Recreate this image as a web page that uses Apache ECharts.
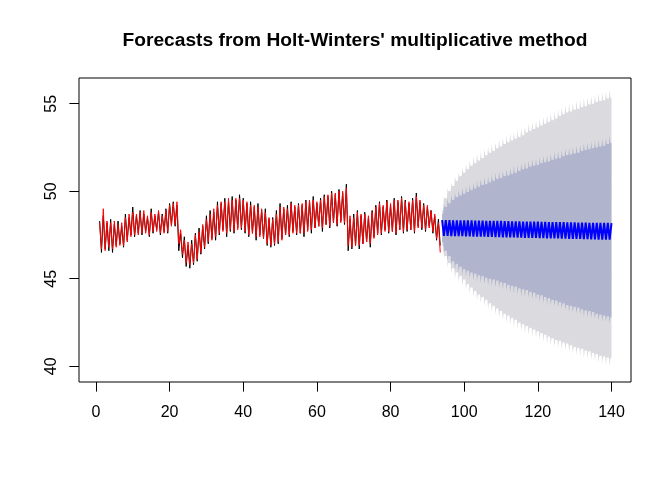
<!DOCTYPE html>
<html>
<head>
<meta charset="utf-8">
<script src="https://cdn.jsdelivr.net/npm/echarts@6/dist/echarts.min.js"></script>
<style>
  html, body { margin: 0; background: #fff; }
  #chart { width: 672px; height: 480px; }
</style>
</head>
<body>
<div id="chart"></div>
<script>
// observed series: one high and one low per season, t = 1..93
const obsHi = [
  48.3,48.6,48.2,48.4,48.1,48.3,48.0,48.7,48.5,49.1,
  48.6,48.9,48.7,48.5,49.0,48.6,48.8,48.7,49.0,49.3,
  49.4,49.2,47.6,47.4,46.9,47.2,47.6,47.9,48.0,48.6,
  48.9,48.8,49.4,49.3,49.6,49.4,49.7,49.5,49.8,49.6,
  49.3,49.4,49.1,49.3,48.9,49.0,48.4,48.5,48.9,49.3,
  49.0,49.2,49.4,49.1,49.3,49.2,49.5,49.4,49.7,49.3,
  49.6,49.8,49.7,50.0,49.8,50.1,49.9,50.4,48.4,48.7,
  48.9,48.6,48.8,48.5,48.9,49.2,49.4,49.1,49.5,49.2,
  49.6,49.4,49.7,49.5,49.3,49.6,49.9,49.4,49.3,49.1,
  48.9,48.6,48.4
];
const obsLo = [
  46.5,46.7,46.6,46.5,46.9,47.0,46.8,47.2,47.5,47.4,
  47.6,47.5,47.7,47.4,47.6,47.8,47.5,47.7,47.6,48.1,
  48.0,46.6,46.2,45.7,45.6,45.8,46.0,46.4,46.7,47.0,
  47.3,47.2,47.5,47.8,47.4,47.7,47.6,47.9,47.8,47.6,
  47.4,47.6,47.2,47.5,47.3,46.9,46.8,46.9,47.0,47.3,
  47.5,47.4,47.7,47.5,47.6,47.4,47.8,47.6,47.9,48.0,
  47.7,48.1,47.9,48.2,48.0,48.3,48.1,46.6,46.7,46.9,
  46.7,47.0,47.1,46.8,47.4,47.6,47.5,47.8,47.6,47.7,
  47.5,47.8,47.6,47.7,47.8,47.6,48.0,47.8,47.7,48.0,
  47.6,47.2,46.9
];
// fitted values (red)
const fitHi = [
  48.2,49.0,48.3,48.2,48.3,48.1,48.2,48.5,48.7,48.8,
  48.7,48.8,48.9,48.6,48.8,48.7,48.9,48.6,48.9,49.2,
  49.3,49.4,47.8,47.2,47.1,47.0,47.5,47.7,48.1,48.4,
  48.7,49.0,49.2,49.4,49.4,49.6,49.5,49.6,49.6,49.5,
  49.4,49.2,49.2,49.1,49.0,48.8,48.5,48.4,48.7,49.1,
  49.1,49.0,49.3,49.2,49.2,49.3,49.4,49.5,49.5,49.4,
  49.5,49.7,49.8,49.9,49.9,50.0,50.0,50.2,48.6,48.5,
  48.8,48.7,48.7,48.6,48.8,49.1,49.3,49.2,49.4,49.3,
  49.5,49.5,49.6,49.4,49.4,49.5,49.7,49.5,49.2,49.2,
  48.9,48.7,48.2
];
const fitLo = [
  46.7,46.6,46.8,46.7,46.8,46.9,46.9,47.1,47.4,47.5,
  47.5,47.6,47.6,47.5,47.7,47.7,47.6,47.6,47.7,48.0,
  48.1,47.0,46.4,45.9,45.8,45.9,46.1,46.5,46.8,47.1,
  47.2,47.4,47.6,47.7,47.6,47.8,47.7,47.8,47.9,47.7,
  47.5,47.6,47.4,47.4,47.3,47.0,46.9,47.0,47.1,47.2,
  47.5,47.5,47.6,47.6,47.6,47.6,47.7,47.8,47.9,48.0,
  47.9,48.1,48.0,48.2,48.1,48.2,48.2,46.9,46.8,46.9,
  46.9,47.0,47.1,47.0,47.3,47.5,47.6,47.7,47.7,47.7,
  47.6,47.8,47.7,47.8,47.8,47.7,47.9,47.9,47.8,47.9,
  47.7,47.3,46.5
];

// forecasts, t = 94..140
const fcStart = 94;
const fcHi = [
  48.35,48.35,48.35,48.34,48.34,48.34,48.33,48.33,48.33,48.32,
  48.32,48.32,48.31,48.31,48.30,48.30,48.30,48.29,48.29,48.28,
  48.28,48.28,48.27,48.27,48.26,48.26,48.26,48.25,48.25,48.24,
  48.24,48.24,48.23,48.23,48.22,48.22,48.22,48.21,48.21,48.21,
  48.20,48.20,48.20,48.19,48.19,48.19,48.18
];
const fcLo = [
  47.45,47.45,47.44,47.44,47.43,47.43,47.42,47.42,47.41,47.41,
  47.40,47.40,47.39,47.39,47.38,47.38,47.37,47.37,47.36,47.36,
  47.35,47.35,47.34,47.34,47.33,47.33,47.32,47.32,47.31,47.31,
  47.30,47.30,47.29,47.29,47.28,47.28,47.27,47.27,47.26,47.26,
  47.25,47.25,47.24,47.24,47.23,47.23
];

// prediction intervals: base edge per season and the spike between seasons
const hi95Base = [
  48.9,49.6,50.0,50.3,50.6,50.85,51.05,51.25,51.45,51.6,
  51.75,51.9,52.05,52.2,52.3,52.45,52.55,52.7,52.8,52.9,
  53.0,53.1,53.2,53.35,53.45,53.55,53.65,53.75,53.85,53.95,
  54.05,54.15,54.3,54.4,54.5,54.55,54.65,54.7,54.8,54.85,
  54.95,55.0,55.1,55.15,55.2,55.3,55.35
];
const hi95Spike = [
  49.7,50.2,50.5,50.85,51.1,51.35,51.55,51.75,51.95,52.1,
  52.25,52.4,52.55,52.7,52.8,52.95,53.05,53.2,53.3,53.4,
  53.5,53.6,53.7,53.85,53.95,54.05,54.15,54.25,54.35,54.45,
  54.55,54.65,54.8,54.9,55.0,55.05,55.15,55.2,55.3,55.35,
  55.45,55.5,55.6,55.65,55.7,55.8
];
const hi80Base = [
  48.7,49.1,49.3,49.5,49.65,49.75,49.85,49.95,50.05,50.15,
  50.25,50.35,50.4,50.5,50.6,50.7,50.75,50.85,50.9,51.0,
  51.05,51.15,51.25,51.3,51.4,51.45,51.5,51.6,51.65,51.7,
  51.8,51.85,51.9,52.0,52.05,52.1,52.15,52.2,52.3,52.35,
  52.4,52.45,52.5,52.55,52.6,52.7,52.75
];
const hi80Spike = [
  49.3,49.6,49.8,49.95,50.1,50.2,50.3,50.4,50.5,50.6,
  50.7,50.8,50.85,50.95,51.05,51.15,51.2,51.3,51.35,51.45,
  51.5,51.6,51.7,51.75,51.85,51.9,51.95,52.05,52.1,52.15,
  52.25,52.3,52.35,52.45,52.5,52.55,52.6,52.65,52.75,52.8,
  52.85,52.9,52.95,53.0,53.05,53.15
];
const lo80Base = [
  47.1,46.6,46.3,46.0,45.85,45.7,45.55,45.45,45.35,45.3,
  45.2,45.15,45.05,45.0,44.95,44.9,44.8,44.75,44.65,44.6,
  44.55,44.45,44.4,44.35,44.25,44.2,44.1,44.05,43.95,43.9,
  43.8,43.75,43.65,43.6,43.5,43.45,43.4,43.35,43.25,43.2,
  43.15,43.1,43.0,42.95,42.9,42.85,42.8
];
const lo80Spike = [
  46.5,46.05,45.75,45.5,45.35,45.2,45.1,45.0,44.9,44.85,
  44.75,44.7,44.6,44.55,44.5,44.45,44.35,44.3,44.2,44.15,
  44.1,44.0,43.95,43.9,43.8,43.75,43.65,43.6,43.5,43.45,
  43.4,43.35,43.25,43.2,43.1,43.05,43.0,42.95,42.85,42.8,
  42.75,42.7,42.6,42.55,42.5,42.45
];
const lo95Base = [
  46.9,46.3,45.9,45.6,45.35,45.15,44.95,44.7,44.5,44.3,
  44.1,43.95,43.8,43.6,43.45,43.3,43.15,43.0,42.9,42.75,
  42.65,42.5,42.4,42.3,42.2,42.1,42.0,41.9,41.8,41.7,
  41.6,41.5,41.45,41.35,41.3,41.2,41.1,41.05,41.0,40.9,
  40.85,40.75,40.7,40.6,40.55,40.5,40.45
];
const lo95Spike = [
  46.2,45.65,45.3,45.0,44.8,44.6,44.4,44.15,43.95,43.75,
  43.6,43.45,43.25,43.1,42.95,42.8,42.65,42.5,42.4,42.25,
  42.15,42.0,41.9,41.8,41.7,41.6,41.5,41.4,41.3,41.2,
  41.1,41.05,40.95,40.9,40.8,40.7,40.65,40.6,40.5,40.45,
  40.35,40.3,40.2,40.15,40.05,40.0
];

const xTicks = [0, 20, 40, 60, 80, 100, 120, 140];
const yTicks = [40, 45, 50, 55];

const font = 'Liberation Sans, Arial, sans-serif';

function zigzag(start, hi, lo) {
  const out = [];
  hi.forEach((v, i) => {
    out.push([start + i, v]);
    if (i < lo.length) out.push([start + i + 0.5, lo[i]]);
  });
  return out;
}

function edge(base, spike) {
  const pts = [];
  base.forEach((v, i) => {
    const t = fcStart + i;
    pts.push([t, v]);
    if (i < spike.length) {
      pts.push([t + 0.3, v], [t + 0.5, spike[i]], [t + 0.7, base[i + 1]]);
    }
  });
  return pts;
}

function band(hiBase, hiSpike, loBase, loSpike, color, z) {
  return {
    type: 'custom',
    silent: true,
    z: z,
    data: [[fcStart, loBase[0]]],
    renderItem: function (params, api) {
      const pts = edge(hiBase, hiSpike).concat(edge(loBase, loSpike).reverse());
      return {
        type: 'polygon',
        shape: {points: pts.map(p => api.coord(p))},
        style: {fill: color}
      };
    }
  };
}

const chart = echarts.init(document.getElementById('chart'));
chart.setOption({
  animation: false,
  title: {
    text: "Forecasts from Holt-Winters' multiplicative method",
    left: 350,
    top: 26,
    textAlign: 'center',
    textStyle: {fontFamily: font, fontSize: 19.2, fontWeight: 'bold', color: '#000'}
  },
  grid: {
    left: 79, right: 41, top: 78, bottom: 98,
    show: true, borderColor: '#000', borderWidth: 1
  },
  xAxis: {
    type: 'value',
    min: -4.6,
    max: 145.3,
    splitLine: {show: false},
    axisLine: {show: false, onZero: false},
    axisTick: {show: true, inside: false, length: 9.6, customValues: xTicks,
      lineStyle: {color: '#000'}},
    axisLabel: {customValues: xTicks, margin: 23, fontSize: 16, color: '#000', fontFamily: font}
  },
  yAxis: {
    type: 'value',
    min: 39.1,
    max: 56.47,
    splitLine: {show: false},
    axisLine: {show: false, onZero: false},
    axisTick: {show: true, inside: false, length: 9.6, customValues: yTicks,
      lineStyle: {color: '#000'}},
    axisLabel: {customValues: yTicks, rotate: 90, margin: 19, fontSize: 16, color: '#000', fontFamily: font}
  },
  series: [
    band(hi95Base, hi95Spike, lo95Base, lo95Spike, '#DBDBDF', 1),
    band(hi80Base, hi80Spike, lo80Base, lo80Spike, '#B0B4CD', 2),
    {
      type: 'line', data: zigzag(1, obsHi, obsLo), showSymbol: false, symbol: 'none',
      silent: true, z: 3, lineStyle: {color: '#000', width: 1}
    },
    {
      type: 'line', data: zigzag(1, fitHi, fitLo), showSymbol: false, symbol: 'none',
      silent: true, z: 4, lineStyle: {color: '#FF0000', width: 1}
    },
    {
      type: 'line', data: zigzag(fcStart, fcHi, fcLo), showSymbol: false, symbol: 'none',
      silent: true, z: 5, lineStyle: {color: '#0000FF', width: 2}
    }
  ]
});
</script>
</body>
</html>
